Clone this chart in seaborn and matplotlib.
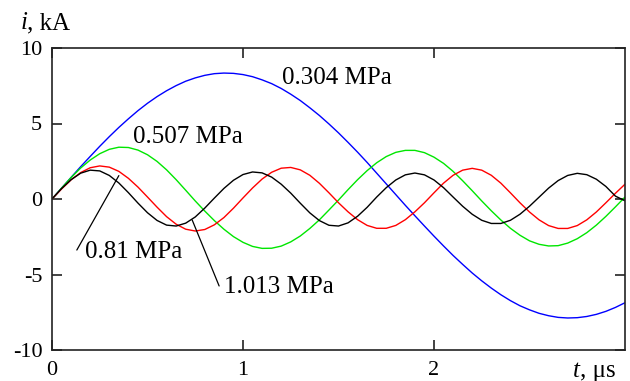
import numpy as np
import pandas as pd
import matplotlib
matplotlib.use("Agg")
import matplotlib.pyplot as plt
import seaborn as sns

# Time axis, microseconds
t_us = [round(0.05 * k, 2) for k in range(61)]

# Discharge current, kA, for each gas pressure
i_0304 = [0.00, 0.72, 1.43, 2.14, 2.82, 3.49, 4.13, 4.74, 5.31, 5.85,
          6.34, 6.78, 7.17, 7.51, 7.80, 8.02, 8.19, 8.30, 8.34, 8.32,
          8.24, 8.10, 7.89, 7.64, 7.32, 6.94, 6.52, 6.04, 5.53, 4.97,
          4.38, 3.75, 3.10, 2.42, 1.71, 1.00, 0.29, -0.42, -1.11, -1.79,
          -2.46, -3.11, -3.74, -4.33, -4.90, -5.42, -5.90, -6.34, -6.73, -7.07,
          -7.34, -7.57, -7.73, -7.84, -7.88, -7.86, -7.78, -7.64, -7.44, -7.18,
          -6.87]
i_0507 = [0.00, 0.72, 1.42, 2.05, 2.58, 3.00, 3.29, 3.43, 3.41, 3.24,
          2.93, 2.49, 1.93, 1.28, 0.58, -0.13, -0.80, -1.43, -2.00, -2.49,
          -2.87, -3.14, -3.27, -3.26, -3.12, -2.84, -2.45, -1.95, -1.38, -0.73,
          -0.07, 0.62, 1.28, 1.88, 2.40, 2.81, 3.09, 3.22, 3.22, 3.07,
          2.77, 2.36, 1.83, 1.21, 0.55, -0.13, -0.78, -1.39, -1.94, -2.40,
          -2.77, -3.00, -3.11, -3.09, -2.92, -2.63, -2.23, -1.73, -1.15, -0.52,
          0.13]
i_081 = [0.00, 0.66, 1.27, 1.75, 2.07, 2.19, 2.11, 1.83, 1.37, 0.79,
         0.13, -0.54, -1.17, -1.67, -2.00, -2.12, -2.02, -1.71, -1.23, -0.61,
         0.07, 0.73, 1.32, 1.77, 2.04, 2.09, 1.93, 1.57, 1.04, 0.41,
         -0.25, -0.85, -1.37, -1.75, -1.94, -1.94, -1.75, -1.37, -0.85, -0.25,
         0.41, 1.05, 1.57, 1.91, 2.03, 1.91, 1.57, 1.05, 0.41, -0.25,
         -0.86, -1.38, -1.76, -1.95, -1.95, -1.76, -1.38, -0.86, -0.25, 0.38,
         0.98]
i_1013 = [0.00, 0.69, 1.28, 1.71, 1.91, 1.86, 1.56, 1.06, 0.42, -0.27,
          -0.91, -1.42, -1.73, -1.79, -1.60, -1.19, -0.60, 0.06, 0.70, 1.24,
          1.62, 1.79, 1.73, 1.45, 0.98, 0.39, -0.28, -0.92, -1.43, -1.74,
          -1.79, -1.58, -1.14, -0.55, 0.13, 0.75, 1.26, 1.60, 1.72, 1.60,
          1.26, 0.75, 0.13, -0.48, -1.01, -1.41, -1.62, -1.62, -1.41, -1.01,
          -0.48, 0.12, 0.72, 1.22, 1.56, 1.70, 1.61, 1.31, 0.83, 0.19,
          -0.12]

pressures = ["0.304 MPa", "0.507 MPa", "0.81 MPa", "1.013 MPa"]
colors = ["#0000ff", "#00e600", "#ff0000", "#000000"]

df = pd.concat(
    [pd.DataFrame({"t": t_us, "i": vals, "p": p})
     for p, vals in zip(pressures, [i_0304, i_0507, i_081, i_1013])],
    ignore_index=True,
)

sns.set_theme(style="ticks")
plt.rcParams["font.family"] = ["Liberation Serif", "DejaVu Serif"]
plt.rcParams["axes.unicode_minus"] = False

fig = plt.figure(figsize=(6.30, 3.81), dpi=100)
ax = fig.add_axes([52 / 630, 1 - 350 / 381, 573 / 630, 302 / 381])

sns.lineplot(data=df, x="t", y="i", hue="p", hue_order=pressures,
             palette=dict(zip(pressures, colors)), linewidth=1.0,
             legend=False, ax=ax, sort=False)

ax.set_xlim(0, 3)
ax.set_ylim(-10, 10)
ax.set_xticks([0, 1, 2])
ax.set_yticks([-10, -5, 0, 5, 10])
ax.set_xlabel("")
ax.set_ylabel("")
for s in ax.spines.values():
    s.set_linewidth(1.2)
    s.set_color("#222222")
ax.tick_params(direction="in", top=True, right=True, length=7, width=1.2,
               colors="#222222", labelsize=16, labelcolor="black")
ax.tick_params(axis="y", pad=7)
ax.tick_params(axis="x", pad=8)

lab = dict(fontsize=18, va="center", ha="left", color="black")
ax.text(1.203, 8.0, "0.304 MPa", **lab)
ax.text(0.422, 4.1, "0.507 MPa", **lab)
ax.text(0.172, -3.48, "0.81 MPa", **lab)
ax.text(0.901, -5.86, "1.013 MPa", **lab)
ax.plot([0.130, 0.350], [-3.38, 1.55], color="black", lw=0.9)
ax.plot([0.734, 0.875], [-1.39, -5.76], color="black", lw=0.9)

# Axis captions: italic variable name followed by upright unit
ax_lab = dict(fontsize=18, va="baseline", ha="left", color="black")
fig.text(21 / 630, 1 - 29 / 381, "i", fontstyle="italic", **ax_lab)
fig.text(27 / 630, 1 - 29 / 381, ", kA", **ax_lab)
fig.text(573 / 630, 1 - 377 / 381, "t", fontstyle="italic", **ax_lab)
fig.text(580 / 630, 1 - 377 / 381, ", μs", **ax_lab)

fig.savefig("out.png", dpi=100)
